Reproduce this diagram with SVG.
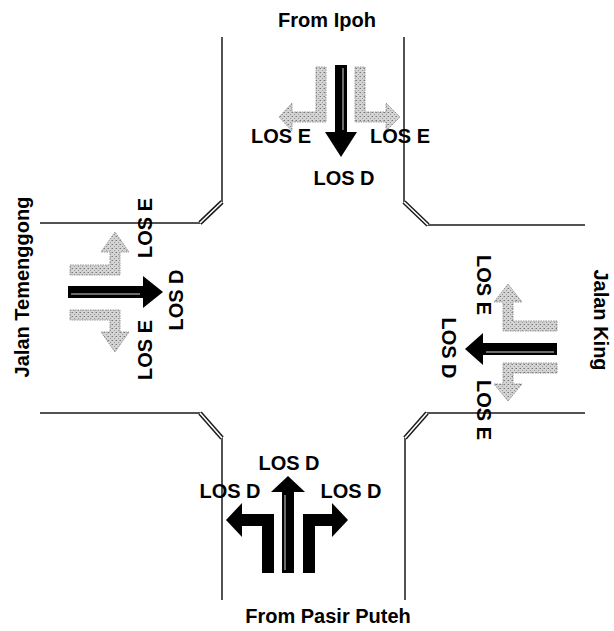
<svg xmlns="http://www.w3.org/2000/svg" width="614" height="631" viewBox="0 0 614 631">
<style>
.road{fill:none;stroke:#1a1a1a;stroke-width:1.5}
.dbl{fill:none;stroke:#1a1a1a;stroke-width:4.5}
.dblin{fill:none;stroke:#fff;stroke-width:1.6}
.blk{fill:#000}
.gry{fill:url(#stip);stroke:#8a8a8a;stroke-width:0.9;stroke-dasharray:1.5 1}
.hl{stroke:#d8d8d8;stroke-width:1;fill:none}
text{font-family:"Liberation Sans",Arial,sans-serif;font-weight:bold;font-size:20px;fill:#000}
.m{text-anchor:middle}
</style>
<defs>
<pattern id="stip" width="4" height="4" patternUnits="userSpaceOnUse">
<rect width="4" height="4" fill="#d4d4d4"/>
<rect x="0" y="0" width="1" height="1" fill="#777"/>
<rect x="2" y="2" width="1" height="1" fill="#999"/>
<rect x="3" y="0" width="1" height="1" fill="#aaa"/>
</pattern>
</defs>
<rect width="614" height="631" fill="#fff"/>
<g id="roads">
<path class="road" d="M222,37 V202 L200,223 H40"/>
<path class="road" d="M404,37 V202 L428,225 H585"/>
<path class="road" d="M40,413 H200 L222,438 V600"/>
<path class="road" d="M585,413 H427 L405,438 V600"/>
<path class="dbl" d="M222,202 L200,223"/><path class="dblin" d="M222,202 L200,223"/>
<path class="dbl" d="M404,202 L428,225"/><path class="dblin" d="M404,202 L428,225"/>
<path class="dbl" d="M200,413 L222,438"/><path class="dblin" d="M200,413 L222,438"/>
<path class="dbl" d="M427,413 L405,438"/><path class="dblin" d="M427,413 L405,438"/>
</g>
<g id="north">
<text class="m" x="327" y="27">From Ipoh</text>
<polygon class="gry" points="316,67 326,67 326,122 292,122 292,131 279,117 292,103 292,112 316,112"/>
<polygon class="gry" points="355,67 365,67 365,112 386,112 386,103 400,117 386,131 386,122 355,122"/>
<polygon class="blk" points="335,65 347,65 347,132 357,132 341,157 325,132 335,132"/>
<line class="hl" x1="343" y1="68" x2="343" y2="130"/>
<text class="m" x="281" y="143">LOS E</text>
<text class="m" x="400" y="143">LOS E</text>
<text class="m" x="344" y="185">LOS D</text>
</g>
<g id="west">
<text class="m" transform="translate(29,287) rotate(-90)">Jalan Temenggong</text>
<polygon class="gry" points="70,265 110,265 110,252 101,252 115,232 129,252 120,252 120,275 70,275"/>
<polygon class="gry" points="70,310 120,310 120,332 129,332 115,352 101,332 110,332 110,320 70,320"/>
<polygon class="blk" points="68,286 143,286 143,276 163,292 143,308 143,298 68,298"/>
<line class="hl" x1="71" y1="294" x2="140" y2="294"/>
<text class="m" transform="translate(152,228) rotate(-90)">LOS E</text>
<text class="m" transform="translate(183,300) rotate(-90)">LOS D</text>
<text class="m" transform="translate(152,350) rotate(-90)">LOS E</text>
</g>
<g id="east">
<text class="m" transform="translate(594,320) rotate(90)">Jalan King</text>
<polygon class="gry" points="557,321 513,321 513,302 522,302 508,284 494,302 503,302 503,331 557,331"/>
<polygon class="gry" points="557,363 503,363 503,384 494,384 508,401 522,384 513,384 513,373 557,373"/>
<polygon class="blk" points="557,343 483,343 483,333 465,349 483,365 483,355 557,355"/>
<line class="hl" x1="486" y1="352" x2="554" y2="352"/>
<text class="m" transform="translate(477,285) rotate(90)">LOS E</text>
<text class="m" transform="translate(442,348) rotate(90)">LOS D</text>
<text class="m" transform="translate(477,410) rotate(90)">LOS E</text>
</g>
<g id="south">
<polygon class="blk" points="282,573 294,573 294,492 305,492 288,476 271,492 282,492"/>
<polygon class="blk" points="262,573 274,573 274,514 242,514 242,503 226,520 242,537 242,526 262,526"/>
<polygon class="blk" points="315,573 303,573 303,514 332,514 332,503 348,520 332,537 332,526 315,526"/>
<line class="hl" x1="285" y1="495" x2="285" y2="570"/>
<text class="m" x="289" y="470">LOS D</text>
<text class="m" x="230" y="498">LOS D</text>
<text class="m" x="351" y="498">LOS D</text>
<text class="m" x="328" y="623">From Pasir Puteh</text>
</g>
</svg>
